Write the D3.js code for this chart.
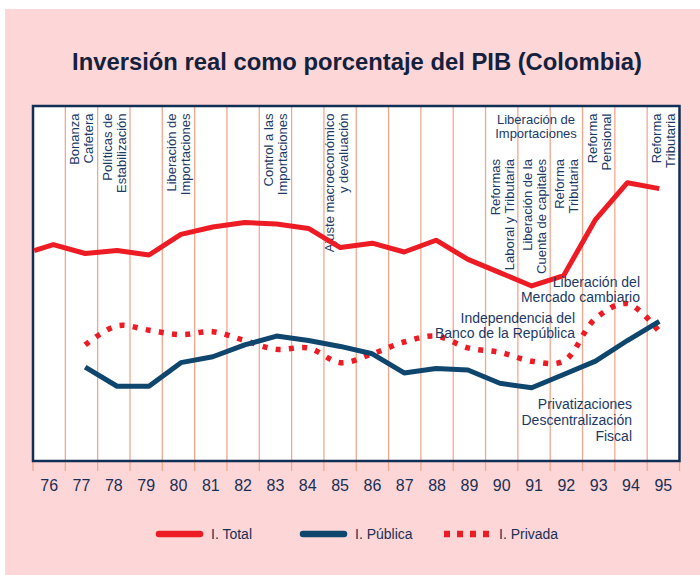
<!DOCTYPE html>
<html>
<head>
<meta charset="utf-8">
<script src="https://cdn.jsdelivr.net/npm/d3@7"></script>
<style>
    body { margin: 0; background: #ffffff; }
    svg { display: block; font-family: "Liberation Sans", Arial, sans-serif; }
</style>
</head>
<body>
<svg id="chart" width="700" height="575"></svg>
<script>
const d3 = window.d3;

// tick labels (years)
const yearLabels = ["76", "77", "78", "79", "80", "81", "82", "83", "84", "85",
    "86", "87", "88", "89", "90", "91", "92", "93", "94", "95"];

// inversión total (% PIB), first point sits on the left frame edge
const totalYears = [75.4, 76, 77, 78, 79, 80, 81, 82, 83, 84, 85, 86, 87, 88, 89, 90, 91, 92, 93, 94, 95];
const totalValues = [14.2, 14.6, 14.0, 14.2, 13.9, 15.3, 15.8, 16.1, 16.0, 15.7, 14.4, 14.7, 14.1, 14.9, 13.6, 12.7, 11.8, 12.5, 16.3, 18.8, 18.4];

// inversión pública y privada (% PIB)
const partYears = [77, 78, 79, 80, 81, 82, 83, 84, 85, 86, 87, 88, 89, 90, 91, 92, 93, 94, 95];
const publicValues = [6.3, 5.0, 5.0, 6.6, 7.0, 7.8, 8.4, 8.1, 7.7, 7.2, 5.9, 6.2, 6.1, 5.2, 4.9, 5.8, 6.7, 8.1, 9.4];
const privateValues = [7.8, 9.1, 8.8, 8.5, 8.7, 8.1, 7.5, 7.6, 6.6, 7.2, 8.0, 8.4, 7.6, 7.3, 6.7, 6.7, 9.6, 10.6, 8.7];

// vertical event notes, by year column
const eventYears = ["77", "78", "80", "83", "85", "90", "91", "92", "93", "95"];
const eventTexts = [
    ["Bonanza", "Cafetera"],
    ["Políticas de", "Estabilización"],
    ["Liberación de", "Importaciones"],
    ["Control a las", "Importaciones"],
    ["Ajuste macroeconómico", "y devaluación"],
    ["Reformas", "Laboral y Tributaria"],
    ["Liberación de la", "Cuenta de capitales"],
    ["Reforma", "Tributaria"],
    ["Reforma", "Pensional"],
    ["Reforma", "Tributaria"]
];
const topNote = ["Liberación de", "Importaciones"];
const noteMercado = ["Liberación del", "Mercado cambiario"];
const noteBanco = ["Independencia del", "Banco de la República"];
const notePriv = ["Privatizaciones", "Descentralización", "Fiscal"];

const legendLabels = ["I. Total", "I. Pública", "I. Privada"];

const RED = "#ed1c24";
const BLUE = "#0f466e";
const NAVY = "#1b3a66";
const GRID = "#f5a78e";

const frame = { left: 33, right: 679.5, top: 106, bottom: 461 };

const svg = d3.select("#chart");

svg.append("rect")
    .attr("x", 5).attr("y", 9)
    .attr("width", 695).attr("height", 566)
    .attr("fill", "#fdd7d7");

svg.append("text")
    .attr("x", 357).attr("y", 70)
    .attr("text-anchor", "middle")
    .attr("font-size", 23.8)
    .attr("font-weight", "bold")
    .attr("fill", "#14213d")
    .text("Inversión real como porcentaje del PIB (Colombia)");

svg.append("rect")
    .attr("x", frame.left).attr("y", frame.top)
    .attr("width", frame.right - frame.left)
    .attr("height", frame.bottom - frame.top)
    .attr("fill", "#ffffff");

const xBand = d3.scaleBand().domain(yearLabels).range([frame.left, frame.right]);
const x = d3.scaleLinear().domain([76, 95]).range([53.3, 659.3]);
const y = d3.scaleLinear().domain([0, 24]).range([460, 106]);

// grid lines at the column edges, running past the frame as ticks
const edges = yearLabels.map((d) => xBand(d)).concat([frame.right]);
svg.append("g")
    .selectAll("line")
    .data(edges)
    .join("line")
    .attr("x1", (d) => d).attr("x2", (d) => d)
    .attr("y1", frame.top).attr("y2", frame.bottom + 10)
    .attr("stroke", GRID)
    .attr("stroke-width", 1.3);

const xAxis = d3.axisBottom(xBand).tickSize(0).tickPadding(19);
svg.append("g")
    .attr("transform", `translate(0, ${frame.bottom})`)
    .call(xAxis)
    .call((g) => g.select(".domain").remove())
    .call((g) =>
        g.selectAll("text")
            .attr("font-family", "Liberation Sans, Arial, sans-serif")
            .attr("font-size", 16)
            .attr("fill", "#1a2f55")
    );

svg.append("rect")
    .attr("x", frame.left).attr("y", frame.top)
    .attr("width", frame.right - frame.left)
    .attr("height", frame.bottom - frame.top)
    .attr("fill", "none")
    .attr("stroke", "#102f56")
    .attr("stroke-width", 2.5);

// vertical notes
const lowered = new Set(["90", "91", "92"]);
const notes = svg.append("g").attr("fill", NAVY).attr("font-size", 13);
eventYears.forEach((yr, i) => {
    const top = lowered.has(yr) ? 159 : 113.5;
    const shift = yr === "85" ? -3.5 : 0;
    eventTexts[i].forEach((line, j) => {
        const bx = xBand(yr) + 14 + j * 14 + shift;
        notes.append("text")
            .attr("transform", `translate(${bx}, ${top}) rotate(-90)`)
            .attr("text-anchor", "end")
            .text(line);
    });
});

notes.selectAll(".top-note")
    .data(topNote)
    .join("text")
    .attr("class", "top-note")
    .attr("x", xBand("91") + xBand.bandwidth() / 2 + 2)
    .attr("y", (d, i) => 124 + i * 14)
    .attr("text-anchor", "middle")
    .text((d) => d);

const drawNote = (lines, xr, y0, step) => {
    svg.append("g")
        .selectAll("text")
        .data(lines)
        .join("text")
        .attr("x", xr)
        .attr("y", (d, i) => y0 + i * step)
        .attr("text-anchor", "end")
        .attr("font-size", 14)
        .attr("fill", NAVY)
        .text((d) => d);
};

// lines
const line = d3.line((d) => x(d[0]), (d) => y(d[1]));

svg.append("path")
    .datum(partYears.map((yr, i) => [yr, privateValues[i]]))
    .attr("d", line.curve(d3.curveCatmullRom.alpha(0.5)))
    .attr("fill", "none")
    .attr("stroke", RED)
    .attr("stroke-width", 5.5)
    .attr("stroke-dasharray", "5,8.3");

svg.append("path")
    .datum(partYears.map((yr, i) => [yr, publicValues[i]]))
    .attr("d", line.curve(d3.curveLinear))
    .attr("fill", "none")
    .attr("stroke", BLUE)
    .attr("stroke-width", 5)
    .attr("stroke-linejoin", "round");

svg.append("path")
    .datum(totalYears.map((yr, i) => [yr, totalValues[i]]))
    .attr("d", line.curve(d3.curveLinear))
    .attr("fill", "none")
    .attr("stroke", RED)
    .attr("stroke-width", 5)
    .attr("stroke-linejoin", "round");

drawNote(noteMercado, 640, 287, 15);
drawNote(noteBanco, 575, 323, 15);
drawNote(notePriv, 632, 408.5, 16);

// legend
const legend = svg.append("g");
const legendStyles = [
    { color: RED, dash: null, cap: "round", width: 6.5 },
    { color: BLUE, dash: null, cap: "round", width: 6.5 },
    { color: RED, dash: "6,7", cap: "butt", width: 6.5 }
];
legendLabels.forEach((label, i) => {
    const lx = 156 + 144 * i;
    const st = legendStyles[i];
    legend.append("line")
        .attr("x1", lx + (st.cap === "round" ? 3 : 0))
        .attr("x2", lx + 47 - (st.cap === "round" ? 3 : 0))
        .attr("y1", 534).attr("y2", 534)
        .attr("stroke", st.color)
        .attr("stroke-width", st.width)
        .attr("stroke-linecap", st.cap)
        .attr("stroke-dasharray", st.dash);
    legend.append("text")
        .attr("x", lx + 55)
        .attr("y", 539)
        .attr("font-size", 14)
        .attr("fill", "#1a2f55")
        .text(label);
});
</script>
</body>
</html>
